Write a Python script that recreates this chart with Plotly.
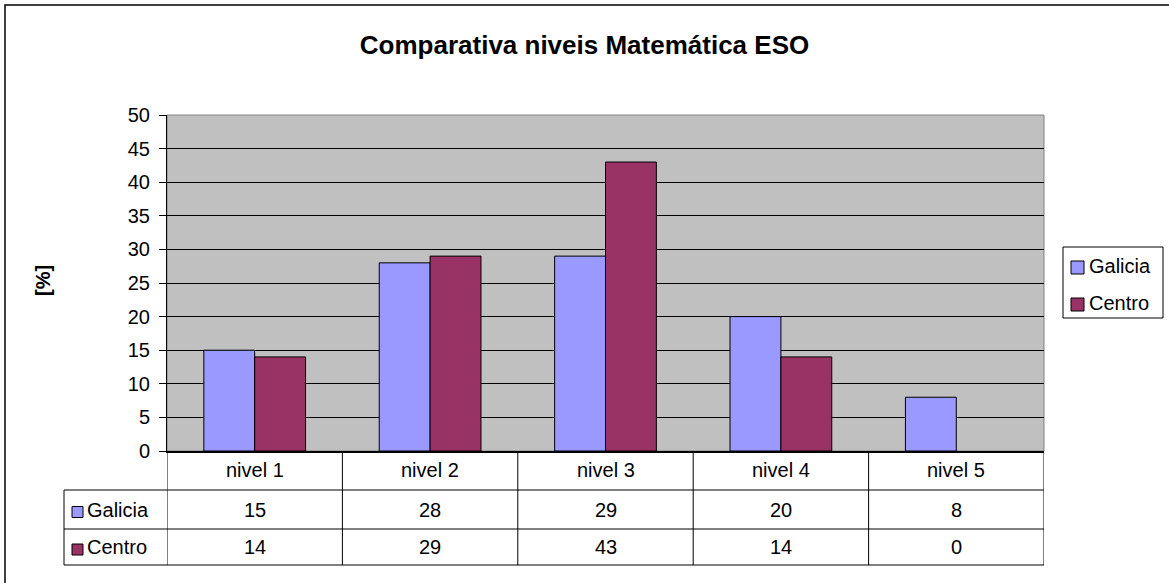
import plotly.graph_objects as go

# Data
categorias = ['nivel 1', 'nivel 2', 'nivel 3', 'nivel 4', 'nivel 5']
galicia = [15, 28, 29, 20, 8]
centro = [14, 29, 43, 14, 0]
series = [('Galicia', galicia, '#9999FF'), ('Centro', centro, '#993366')]

# Layout in pixels
W, H = 1169, 583
L, R, T, B = 167, 1044, 115, 451
pw, ph = R - L, B - T

def px_x(x):
    return (x - L) / pw

def px_y(y):
    return (B - y) / ph

FS = 20

fig = go.Figure()
for name, vals, col in series:
    fig.add_trace(go.Bar(
        x=categorias, y=vals, name=name,
        marker=dict(color=col, line=dict(color='black', width=[1 if v else 0 for v in vals])),
    ))

shapes = []
annotations = []

def box(x0, y0, x1, y1, **kw):
    shapes.append(dict(type='rect', xref='paper', yref='paper',
                       x0=px_x(x0), x1=px_x(x1), y0=px_y(y1), y1=px_y(y0), **kw))

# outer chart border (only top/left visible in the frame)
box(5, 5, 1185, 600, line=dict(color='black', width=1.5), layer='below')
# plot area frame (gray)
shapes.append(dict(type='rect', xref='paper', yref='paper', x0=0, x1=1, y0=0, y1=1,
                   line=dict(color='#808080', width=1), layer='below'))

# data table
row_lines = [490, 529, 565]
n = len(categorias)
for yy in row_lines:
    shapes.append(dict(type='line', xref='paper', yref='paper', x0=px_x(64), x1=1,
                       y0=px_y(yy), y1=px_y(yy), line=dict(color='black', width=1)))
for i in range(n + 1):
    shapes.append(dict(type='line', xref='x', yref='paper', x0=i - 0.5, x1=i - 0.5,
                       y0=0, y1=px_y(565), line=dict(color='black', width=1)))
shapes.append(dict(type='line', xref='paper', yref='paper', x0=px_x(64), x1=px_x(64),
                   y0=px_y(490), y1=px_y(565), line=dict(color='black', width=1)))

row_centers = [(451 + 490) / 2, (490 + 529) / 2, (529 + 565) / 2]
for cat in categorias:
    annotations.append(dict(x=cat, y=px_y(row_centers[0]), xref='x', yref='paper',
                            xanchor='center', yanchor='middle',
                            text=cat, showarrow=False, font=dict(size=FS)))
for r, (name, vals, col) in enumerate(series):
    yc = row_centers[r + 1]
    annotations.append(dict(x=px_x(85), y=px_y(yc), xref='paper', yref='paper',
                            text=name, showarrow=False, xanchor='left', yanchor='middle',
                            font=dict(size=FS)))
    box(72, yc - 3, 83, yc + 8, fillcolor=col, line=dict(color='black', width=1))
    for cat, v in zip(categorias, vals):
        annotations.append(dict(x=cat, y=px_y(yc), xref='x', yref='paper',
                                xanchor='center', yanchor='middle',
                                text=str(v), showarrow=False, font=dict(size=FS)))

# legend (drawn by hand to match the box)
box(1063, 247, 1163, 318, fillcolor='white', line=dict(color='black', width=1))
for r, (name, vals, col) in enumerate(series):
    yc = 265 + 37 * r
    box(1071, yc - 4, 1084, yc + 9, fillcolor=col, line=dict(color='black', width=1))
    annotations.append(dict(x=px_x(1087), y=px_y(yc + 1), xref='paper', yref='paper',
                            text=name, showarrow=False, xanchor='left', yanchor='middle',
                            font=dict(size=FS)))

# y axis title
annotations.append(dict(x=px_x(43), y=px_y(281), xref='paper', yref='paper', text='<b>[%]</b>',
                        xanchor='center', yanchor='middle',
                        textangle=-90, showarrow=False, font=dict(size=FS)))

fig.update_layout(
    width=W, height=H,
    margin=dict(l=L, r=W - R, t=T, b=H - B, autoexpand=False),
    paper_bgcolor='white',
    plot_bgcolor='#C0C0C0',
    font=dict(family='Liberation Sans, Arial, sans-serif', color='black', size=FS),
    title=dict(text='<b>Comparativa niveis Matemática ESO</b>', x=0.5, xref='container',
               xanchor='center', y=1 - 44.5 / H, yanchor='middle', font=dict(size=26)),
    barmode='group',
    bargap=0.42,
    bargroupgap=0,
    showlegend=False,
    shapes=shapes,
    annotations=annotations,
)
fig.update_xaxes(showticklabels=False, range=[-0.5, n - 0.5], showline=True,
                 linecolor='black', linewidth=2, ticks='')
fig.update_yaxes(range=[0, 50], dtick=5, showgrid=True, gridcolor='black', gridwidth=1,
                 showline=True, linecolor='black', linewidth=1, ticks='outside',
                 ticklen=7, tickcolor='black', tickfont=dict(size=FS), zeroline=False,
                 ticklabelstandoff=5)

fig.write_html('out.html', post_script="document.body.style.margin='0';",
               config={'displayModeBar': False})
